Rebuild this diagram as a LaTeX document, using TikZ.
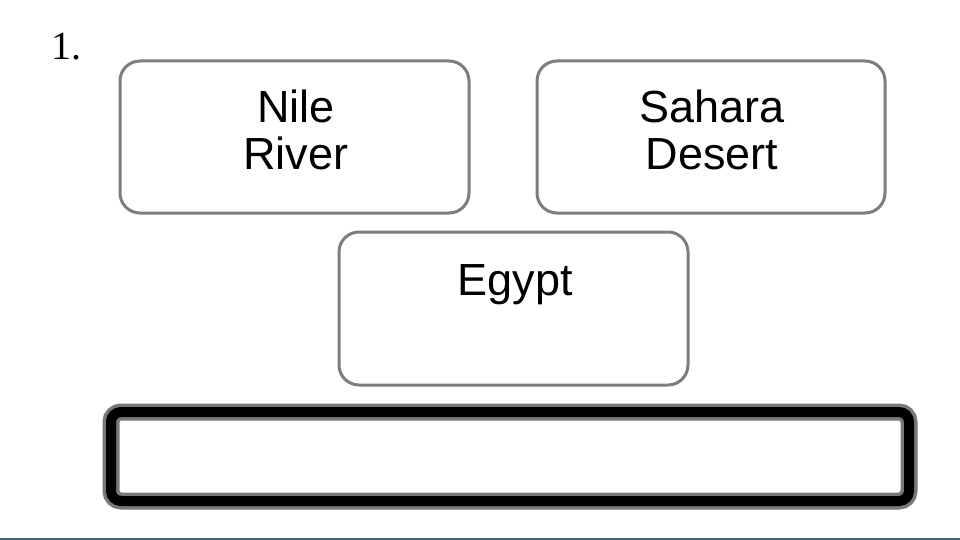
\documentclass[tikz,border=0pt]{standalone}
\usepackage{fontspec}
\setmainfont{Liberation Sans}
\newfontfamily\numfont{Liberation Serif}
\definecolor{boxgray}{RGB}{125,125,125}
\definecolor{edgegray}{RGB}{120,120,120}
\definecolor{footline}{RGB}{70,100,112}
\begin{document}
\begin{tikzpicture}[x=1pt,y=-1pt,
  roundbox/.style={draw=boxgray, line width=3pt, rounded corners=20pt},
  label/.style={font=\fontsize{45}{47}\selectfont, align=center, anchor=base, inner sep=0pt},
  answerouter/.style={draw=edgegray, line width=17pt, rounded corners=10pt},
  answerinner/.style={draw=black, line width=10pt, rounded corners=10pt}]
\useasboundingbox (0,0) rectangle (960,540);
\fill[white] (0,0) rectangle (960,540);
\node[font=\numfont\fontsize{40}{40}\selectfont, anchor=base west, inner sep=0pt] (num) at (51,60) {1.};
% boxes
\draw[roundbox] (120,61) rectangle (469,213);
\draw[roundbox] (537,61) rectangle (885,213);
\draw[roundbox] (339,232) rectangle (688,385);
\node[label] (nile) at (296,170) {Nile\\River};
\node[label] (sahara) at (712,170) {Sahara\\Desert};
\node[label] (egypt) at (515,295) {Egypt};
% answer box
\draw[answerouter] (111,412) rectangle (909,501);
\draw[answerinner] (111,412) rectangle (909,501);
% footer line
\draw[footline, line width=2.5pt] (0,539) -- (960,539);
\end{tikzpicture}
\end{document}
